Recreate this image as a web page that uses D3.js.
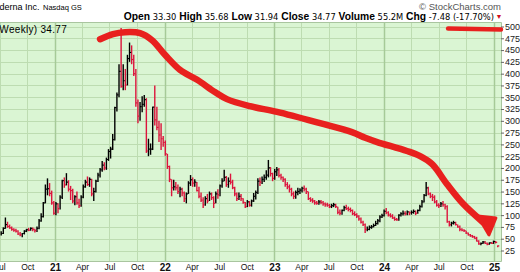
<!DOCTYPE html>
<html lang="en">
<head>
  <meta charset="UTF-8" />
  <title>Moderna Inc. weekly</title>
  <script src="https://d3js.org/d3.v7.min.js"></script>
  <style>
    body { margin: 0; background: #fff; }
    svg { display: block; }
    text { font-family: "Liberation Sans", Arial, sans-serif; white-space: pre; }
  </style>
</head>
<body>
  <svg id="chart" width="520" height="272"></svg>

  <script>
    // weekly bars, first Monday of the series
    const firstWeek = "2020-07-06";

    const highs = [
      // 2020
      66, 74, 95, 86, 80, 76, 72, 71, 68, 64, 62, 68, 71, 73, 74, 74, 71, 76, 92, 104, 128, 165, 178, 168, 152, 130,
      // 2021
      128, 125, 142, 175, 180, 189, 174, 162, 156, 142, 150, 135, 142, 165, 175, 182, 180, 177, 158, 175, 190, 200, 215, 212, 222, 240,
      245, 272, 330, 360, 420, 497, 420, 410, 440, 466, 460, 440, 410, 345, 340, 352, 355, 348, 262, 252, 330, 375, 330, 300, 295, 268,
      // 2022
      258, 230, 205, 176, 175, 170, 165, 160, 158, 150, 148, 172, 185, 180, 176, 170, 160, 148, 138, 140, 145, 150, 148, 140, 150, 155,
      165, 178, 196, 183, 180, 188, 175, 160, 148, 148, 145, 136, 128, 132, 130, 133, 147, 152, 178, 180, 182, 186, 195, 217, 202, 190,
      // 2023
      198, 202, 200, 188, 182, 178, 170, 165, 158, 150, 152, 158, 157, 160, 163, 158, 150, 138, 136, 132, 130, 132, 132, 130, 127, 126,
      124, 124, 126, 124, 118, 112, 112, 120, 122, 118, 116, 112, 108, 104, 100, 95, 88, 82, 76, 78, 79, 82, 88, 92, 100, 103,
      // 2024
      112, 115, 108, 104, 102, 97, 94, 102, 106, 110, 108, 110, 108, 110, 112, 110, 112, 122, 132, 145, 170, 160, 148, 145, 142, 132,
      125, 128, 130, 124, 121, 88, 86, 88, 86, 80, 78, 72, 70, 67, 63, 60, 58, 56, 54, 47, 42, 45, 45, 42, 42, 43, 46,
      // 2025
      45, 35.68
    ];

    const lows = [
      // 2020
      57, 60, 71, 73, 71, 67, 65, 63, 58, 55, 53, 59, 64, 66, 67, 66, 63, 64, 70, 86, 95, 125, 142, 140, 122, 101,
      // 2021
      100, 104, 112, 134, 158, 163, 150, 132, 125, 121, 122, 115, 118, 136, 158, 162, 160, 140, 130, 148, 170, 180, 192, 195, 196, 215,
      220, 238, 258, 320, 350, 370, 365, 365, 375, 425, 420, 395, 330, 295, 300, 318, 330, 232, 225, 228, 238, 290, 280, 255, 238, 245,
      // 2022
      226, 198, 170, 140, 152, 152, 145, 138, 140, 128, 125, 145, 162, 160, 160, 150, 136, 128, 115, 120, 125, 130, 132, 115, 125, 135,
      140, 158, 172, 160, 158, 165, 155, 140, 130, 132, 130, 124, 115, 117, 118, 118, 128, 133, 145, 162, 166, 170, 175, 180, 182, 172,
      // 2023
      175, 183, 180, 175, 170, 160, 155, 148, 140, 134, 135, 142, 145, 148, 150, 145, 132, 128, 126, 122, 122, 122, 123, 120, 118, 118,
      115, 115, 117, 115, 102, 100, 101, 108, 111, 108, 106, 100, 98, 94, 88, 82, 77, 62, 66, 68, 71, 74, 77, 80, 85, 94,
      // 2024
      97, 102, 97, 95, 92, 88, 88, 88, 97, 99, 99, 100, 100, 101, 103, 100, 103, 108, 116, 127, 140, 142, 136, 130, 125, 118,
      115, 117, 118, 112, 84, 76, 76, 80, 78, 73, 66, 66, 64, 60, 57, 54, 52, 50, 44, 37, 36, 39, 39, 36, 37, 39, 39,
      // 2025
      40, 31.94
    ];

    const closes = [
      // 2020
      61, 72, 80, 76, 73, 70, 68, 66, 60, 58, 61, 66, 69, 68, 72, 70, 67, 72, 88, 97, 126, 155, 156, 146, 126, 104,
      // 2021
      124, 114, 138, 173, 164, 170, 155, 152, 130, 139, 126, 120, 138, 160, 170, 165, 176, 145, 150, 172, 185, 196, 206, 200, 218, 235,
      240, 260, 328, 355, 405, 373, 385, 376, 432, 445, 430, 400, 338, 310, 330, 335, 345, 236, 240, 240, 329, 302, 286, 270, 262, 254,
      // 2022
      230, 203, 176, 158, 160, 158, 150, 155, 147, 135, 145, 168, 175, 168, 170, 152, 140, 132, 122, 135, 130, 145, 137, 125, 145, 143,
      162, 172, 180, 165, 172, 170, 158, 145, 135, 140, 135, 127, 118, 128, 121, 130, 140, 148, 172, 170, 176, 180, 185, 200, 188, 178,
      // 2023
      192, 196, 184, 180, 176, 165, 160, 155, 145, 140, 148, 150, 153, 157, 155, 150, 135, 132, 130, 126, 125, 128, 127, 124, 122, 121,
      118, 120, 122, 118, 106, 104, 110, 116, 114, 112, 110, 103, 101, 98, 92, 85, 80, 70, 70, 74, 75, 78, 82, 88, 96, 99,
      // 2024
      108, 105, 100, 98, 94, 91, 90, 100, 103, 104, 103, 107, 105, 106, 108, 104, 110, 118, 128, 142, 158, 145, 140, 138, 128, 121,
      120, 124, 122, 118, 86, 80, 83, 84, 80, 75, 70, 68, 67, 62, 58, 56, 54, 51, 45, 39, 40, 43, 40, 38, 41, 40, 44,
      // 2025
      42.25, 34.77
    ];

    const priceTicks = [25, 50, 75, 100, 125, 150, 175, 200, 225, 250, 275, 300, 325, 350, 375, 400, 425, 450, 475, 500];

    const headerFields = [
      ["Open", "33.30"], ["High", "35.68"], ["Low", "31.94"],
      ["Close", "34.77"], ["Volume", "55.2M"], ["Chg", "-7.48 (-17.70%)"]
    ];

    // hand-drawn red annotation, in (date, price)
    const trendStroke = [
      ["2021-05-31", 473], ["2021-07-13", 484], ["2021-08-22", 488], ["2021-10-11", 486],
      ["2021-11-20", 471], ["2022-01-02", 440], ["2022-02-21", 408], ["2022-04-19", 387],
      ["2022-06-17", 361], ["2022-07-27", 346], ["2022-10-12", 331], ["2023-01-10", 319],
      ["2023-06-02", 295], ["2023-09-16", 276], ["2023-10-30", 264], ["2023-12-09", 255],
      ["2024-03-17", 236], ["2024-04-30", 225], ["2024-06-09", 208], ["2024-07-28", 166],
      ["2024-09-20", 124], ["2024-11-25", 85]
    ];
    const arrowHead = [["2024-11-08", 98], ["2025-01-07", 94], ["2024-12-15", 58]];
    const underline = [["2024-08-01", 495.5], ["2025-01-24", 493.5]];

    const plot = { left: 0, right: 501, top: 22, bottom: 261 };
    const bg = "#daf5d3", grid = "#bddcb1", yearGrid = "#a6ca98";
    const upColor = "#000", downColor = "#dc143c", penRed = "#e8201e";

    const parse = d3.timeParse("%Y-%m-%d");
    const svg = d3.select("#chart");

    const x = d3.scaleTime()
      .domain([parse("2020-07-02"), parse("2025-01-24")])
      .range([plot.left, plot.right]);
    const y = d3.scaleLinear().domain([25, 500]).range([250.5, 26.5]);

    const start = parse(firstWeek);
    const bars = closes.map((c, i) => ({
      date: d3.timeDay.offset(start, 7 * i),
      high: highs[i], low: lows[i], close: c,
      up: i === 0 || c >= closes[i - 1]
    }));

    svg.append("defs").append("clipPath").attr("id", "plotClip")
      .append("rect")
      .attr("x", plot.left).attr("y", plot.top)
      .attr("width", plot.right - plot.left).attr("height", plot.bottom - plot.top);

    svg.append("rect")
      .attr("x", plot.left).attr("y", plot.top)
      .attr("width", plot.right - plot.left).attr("height", plot.bottom - plot.top)
      .attr("fill", bg);

    // grid
    const quarters = d3.timeMonth.every(3).range(parse("2020-07-01"), parse("2025-01-02"));
    const gridG = svg.append("g").attr("clip-path", "url(#plotClip)");
    gridG.selectAll("line.h").data(priceTicks).join("line")
      .attr("class", "h")
      .attr("x1", plot.left).attr("x2", plot.right)
      .attr("y1", d => Math.round(y(d)) + 0.5).attr("y2", d => Math.round(y(d)) + 0.5)
      .attr("stroke", grid).attr("stroke-width", 1);
    gridG.selectAll("line.v").data(quarters).join("line")
      .attr("class", "v")
      .attr("x1", d => Math.round(x(d)) + 0.5).attr("x2", d => Math.round(x(d)) + 0.5)
      .attr("y1", plot.top).attr("y2", plot.bottom)
      .attr("stroke", d => d.getMonth() === 0 ? yearGrid : grid)
      .attr("stroke-width", d => d.getMonth() === 0 ? 1.5 : 1);

    // border
    svg.append("path")
      .attr("d", `M${plot.left},${plot.top + 0.5}H${plot.right + 0.5}V${plot.bottom + 0.5}H${plot.left}`)
      .attr("fill", "none").attr("stroke", "#a9c59f").attr("stroke-width", 1);

    // price bars
    const barG = svg.append("g").attr("clip-path", "url(#plotClip)");
    barG.selectAll("line.hl").data(bars).join("line")
      .attr("class", "hl")
      .attr("x1", d => x(d.date)).attr("x2", d => x(d.date))
      .attr("y1", d => y(d.high)).attr("y2", d => y(d.low))
      .attr("stroke", d => d.up ? upColor : downColor)
      .attr("stroke-width", 1.4);
    barG.selectAll("line.cl").data(bars).join("line")
      .attr("class", "cl")
      .attr("x1", d => x(d.date)).attr("x2", d => x(d.date) + 1.6)
      .attr("y1", d => y(d.close)).attr("y2", d => y(d.close))
      .attr("stroke", d => d.up ? upColor : downColor)
      .attr("stroke-width", 1.2);

    // y axis on the right
    const yAxis = svg.append("g")
      .attr("transform", `translate(${plot.right},0)`)
      .call(d3.axisRight(y).tickValues(priceTicks).tickSize(3).tickPadding(1));
    yAxis.select(".domain").remove();
    yAxis.selectAll(".tick line").attr("stroke", "#666");
    yAxis.selectAll(".tick text")
      .attr("font-family", "'Liberation Sans', Arial, sans-serif")
      .attr("font-size", 9).attr("fill", "#222");

    // x axis
    const xAxis = svg.append("g")
      .attr("transform", `translate(0,${plot.bottom})`)
      .call(d3.axisBottom(x).tickValues(quarters).tickSize(0)
        .tickFormat(d => d.getMonth() === 0 ? d3.timeFormat("%y")(d) : d3.timeFormat("%b")(d)));
    xAxis.select(".domain").remove();
    xAxis.selectAll(".tick text")
      .attr("y", 3)
      .attr("font-family", "'Liberation Sans', Arial, sans-serif")
      .attr("font-size", d => d.getMonth() === 0 ? 10 : 8.5)
      .attr("font-weight", d => d.getMonth() === 0 ? "bold" : "normal")
      .attr("fill", "#111");

    // header
    svg.append("text")
      .attr("x", 39.5).attr("y", 10).attr("text-anchor", "end")
      .attr("font-size", 9).text("Moderna Inc.");
    svg.append("text")
      .attr("x", 43).attr("y", 10)
      .attr("font-family", "'DejaVu Sans', sans-serif").attr("font-size", 7.5)
      .text("Nasdaq GS");
    svg.append("text")
      .attr("x", 501).attr("y", 10).attr("text-anchor", "end")
      .attr("font-size", 9.5).attr("fill", "#555")
      .text("\u00a9 StockCharts.com");

    const quote = svg.append("text")
      .attr("x", 494).attr("y", 20).attr("text-anchor", "end");
    headerFields.forEach(([label, value], i) => {
      quote.append("tspan")
        .attr("font-weight", "bold").attr("font-size", 10.3)
        .text((i ? " " : "") + label);
      quote.append("tspan")
        .attr("font-family", "'DejaVu Sans', sans-serif").attr("font-size", 8.3)
        .text(" " + value);
    });
    svg.append("text")
      .attr("x", 495.5).attr("y", 19).attr("font-size", 7).attr("fill", "#d0101e")
      .text("\u25bc");

    svg.append("text")
      .attr("x", 67).attr("y", 33).attr("text-anchor", "end")
      .attr("font-family", "'DejaVu Sans', sans-serif").attr("font-size", 10)
      .attr("letter-spacing", 0.3)
      .text("MRNA (Weekly) 34.77");

    // red hand annotation
    const pen = d3.line()
      .x(d => x(parse(d[0])))
      .y(d => y(d[1]));
    svg.append("path")
      .attr("d", pen.curve(d3.curveCatmullRom)(trendStroke))
      .attr("fill", "none").attr("stroke", penRed)
      .attr("stroke-width", 6.5).attr("stroke-linecap", "round").attr("stroke-linejoin", "round");
    svg.append("path")
      .attr("d", pen.curve(d3.curveLinearClosed)(arrowHead))
      .attr("fill", penRed).attr("stroke", penRed)
      .attr("stroke-width", 3).attr("stroke-linejoin", "round");
    svg.append("path")
      .attr("d", pen.curve(d3.curveLinear)(underline))
      .attr("fill", "none").attr("stroke", penRed)
      .attr("stroke-width", 4.5).attr("stroke-linecap", "round");
  </script>
</body>
</html>
